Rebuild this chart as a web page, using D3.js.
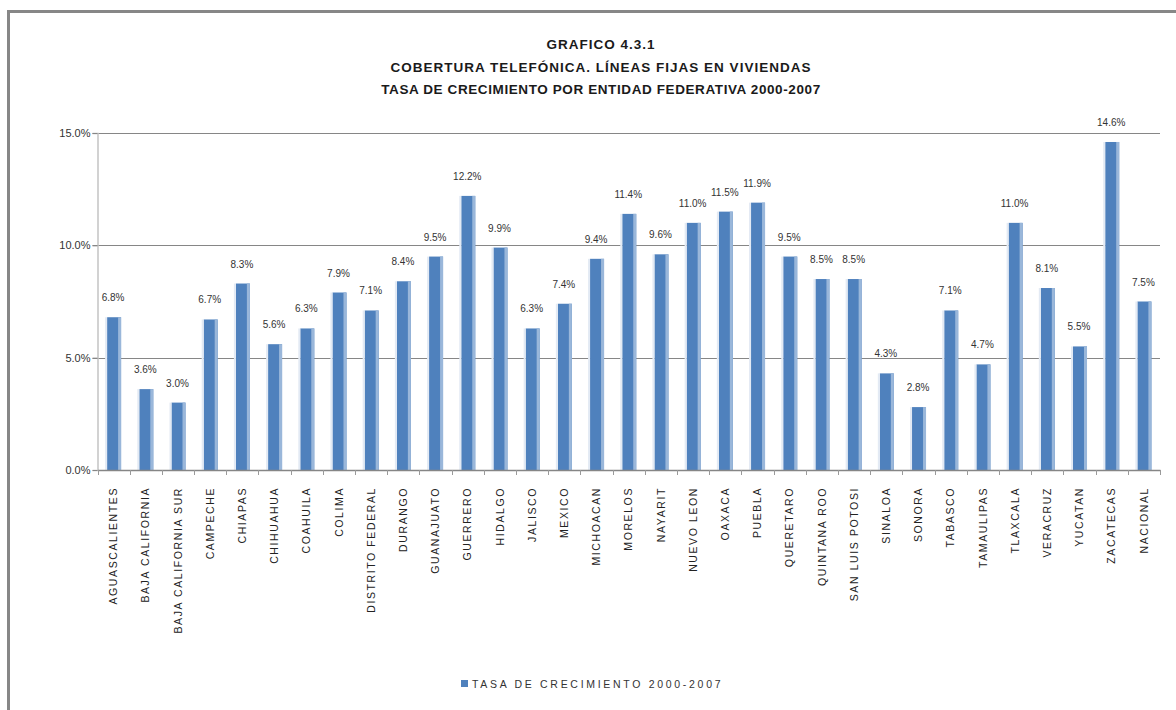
<!DOCTYPE html>
<html>
<head>
<meta charset="utf-8">
<script src="https://cdn.jsdelivr.net/npm/d3@7"></script>
<style>
  html, body { margin: 0; padding: 0; background: #fff; }
  svg { display: block; }
</style>
</head>
<body>
<div id="chart"></div>
<script>
// Growth rate of fixed telephone lines in households, by state, 2000-2007
const estados = [
  "AGUASCALIENTES", "BAJA CALIFORNIA", "BAJA CALIFORNIA SUR", "CAMPECHE", "CHIAPAS",
  "CHIHUAHUA", "COAHUILA", "COLIMA", "DISTRITO FEDERAL", "DURANGO", "GUANAJUATO",
  "GUERRERO", "HIDALGO", "JALISCO", "MEXICO", "MICHOACAN", "MORELOS", "NAYARIT",
  "NUEVO  LEON", "OAXACA", "PUEBLA", "QUERETARO", "QUINTANA ROO", "SAN LUIS POTOSI",
  "SINALOA", "SONORA", "TABASCO", "TAMAULIPAS", "TLAXCALA", "VERACRUZ", "YUCATAN",
  "ZACATECAS", "NACIONAL"
];
const tasaCrecimiento = [
  6.8, 3.6, 3.0, 6.7, 8.3, 5.6, 6.3, 7.9, 7.1, 8.4, 9.5,
  12.2, 9.9, 6.3, 7.4, 9.4, 11.4, 9.6, 11.0, 11.5, 11.9,
  9.5, 8.5, 8.5, 4.3, 2.8, 7.1, 4.7, 11.0, 8.1, 5.5, 14.6, 7.5
];
const yTicks = [0, 5, 10, 15];
const titulo = [
  "GRAFICO 4.3.1",
  "COBERTURA TELEFÓNICA. LÍNEAS FIJAS EN VIVIENDAS",
  "TASA DE CRECIMIENTO POR ENTIDAD FEDERATIVA 2000-2007"
];
const serieNombre = "TASA DE CRECIMIENTO 2000-2007";

const W = 1176, H = 710;
const plot = { left: 97.5, right: 1160, top: 133, bottom: 470 };
const font = "'Liberation Sans', Arial, sans-serif";

const svg = d3.select("#chart").append("svg")
  .attr("width", W).attr("height", H);

// chart frame (top and left edges)
svg.append("rect").attr("x", 7).attr("y", 10).attr("width", W).attr("height", 3).attr("fill", "#878787");
svg.append("rect").attr("x", 7).attr("y", 10).attr("width", 3).attr("height", H).attr("fill", "#878787");

// title
svg.append("g").selectAll("text").data(titulo).join("text")
  .attr("x", 601).attr("y", (d, i) => 49 + i * 22.5)
  .attr("text-anchor", "middle")
  .attr("font-family", font).attr("font-weight", "bold")
  .attr("font-size", 13.5)
  .attr("letter-spacing", (d, i) => i === 1 ? 1.0 : (i === 0 ? 1.0 : 0.6))
  .attr("fill", "#1a1a1a")
  .text(d => d);

const x = d3.scaleBand().domain(estados).range([plot.left, plot.right]).paddingInner(0).paddingOuter(0);
const y = d3.scaleLinear().domain([0, 15]).range([plot.bottom, plot.top]);

// gridlines
svg.append("g").selectAll("line").data(yTicks.filter(t => t > 0)).join("line")
  .attr("x1", plot.left - 5).attr("x2", plot.right)
  .attr("y1", d => Math.round(y(d)) + 0.5).attr("y2", d => Math.round(y(d)) + 0.5)
  .attr("stroke", "#868686").attr("stroke-width", 1);

// y axis
const yAxis = d3.axisLeft(y).tickValues(yTicks).tickSize(5)
  .tickFormat(d => d3.format(".1f")(d) + "%");
const gy = svg.append("g").attr("transform", `translate(${plot.left},0)`).call(yAxis);
gy.select(".domain").attr("stroke", "#c4c4c4").attr("stroke-width", 1.5);
gy.selectAll(".tick line").attr("stroke", "#868686");
gy.selectAll(".tick text").attr("font-family", font).attr("font-size", 11)
  .attr("fill", "#333").attr("x", -7);

// bars
const bw = 14;
const barras = svg.append("g").selectAll("g").data(estados).join("g")
  .attr("transform", d => `translate(${x(d) + x.bandwidth() / 2 - bw / 2 + 0.5},0)`);
barras.append("rect")
  .attr("x", 0).attr("width", bw)
  .attr("y", (d, i) => y(tasaCrecimiento[i]))
  .attr("height", (d, i) => plot.bottom - y(tasaCrecimiento[i]))
  .attr("fill", "#4f81bd");
barras.append("rect")
  .attr("x", bw - 3).attr("width", 3)
  .attr("y", (d, i) => y(tasaCrecimiento[i]))
  .attr("height", (d, i) => plot.bottom - y(tasaCrecimiento[i]))
  .attr("fill", "#9ab7da");
barras.append("rect")
  .attr("x", -2).attr("width", 2)
  .attr("y", (d, i) => y(tasaCrecimiento[i]))
  .attr("height", (d, i) => plot.bottom - y(tasaCrecimiento[i]))
  .attr("fill", "#e3eaf4");

// value labels
barras.append("text")
  .attr("x", bw / 2 - 1)
  .attr("y", (d, i) => y(tasaCrecimiento[i]) - 16)
  .attr("text-anchor", "middle")
  .attr("font-family", font).attr("font-size", 10)
  .attr("fill", "#333")
  .text((d, i) => d3.format(".1f")(tasaCrecimiento[i]) + "%");

// x axis
const xAxis = d3.axisBottom(x).tickSize(0).tickFormat("");
const gx = svg.append("g").attr("transform", `translate(0,${plot.bottom})`).call(xAxis);
gx.select(".domain").attr("stroke", "#868686").attr("stroke-width", 1.5);
svg.append("g").selectAll("line").data(d3.range(estados.length + 1)).join("line")
  .attr("x1", i => Math.round(plot.left + i * x.bandwidth()) + 0.5)
  .attr("x2", i => Math.round(plot.left + i * x.bandwidth()) + 0.5)
  .attr("y1", plot.bottom).attr("y2", plot.bottom + 5)
  .attr("stroke", "#9a9a9a");

// category labels (rotated)
svg.append("g").selectAll("text").data(estados).join("text")
  .attr("transform", d => `translate(${x(d) + x.bandwidth() / 2},${plot.bottom + 17}) rotate(-90)`)
  .attr("text-anchor", "end")
  .attr("dy", "0.35em")
  .attr("font-family", font).attr("font-size", 10.5)
  .attr("letter-spacing", 1.6)
  .attr("fill", "#222")
  .text(d => d);

// legend
const lg = svg.append("g").attr("transform", "translate(461,684)");
lg.append("rect").attr("x", 0).attr("y", -4).attr("width", 7).attr("height", 7).attr("fill", "#4f81bd");
lg.append("text").attr("x", 11).attr("y", 0).attr("dy", "0.35em")
  .attr("font-family", font).attr("font-size", 10.5)
  .attr("letter-spacing", 2.7)
  .attr("fill", "#333")
  .text(serieNombre);
</script>
</body>
</html>
